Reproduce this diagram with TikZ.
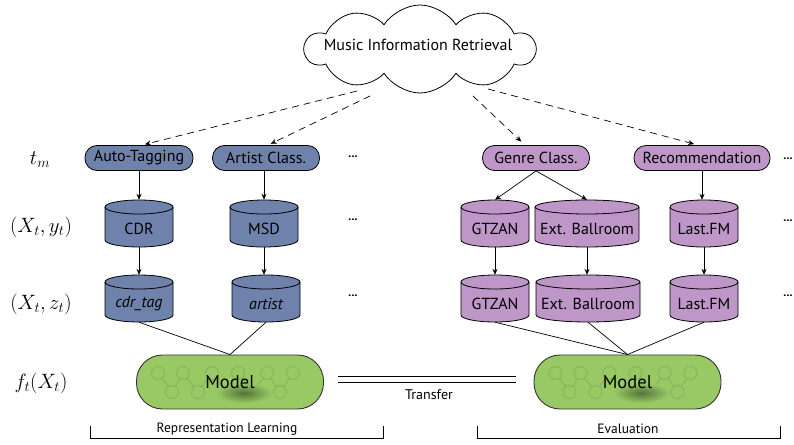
\documentclass[tikz,border=0pt]{standalone}
\usepackage{fontspec}
\setsansfont{PT Sans}
\usetikzlibrary{shapes.symbols,arrows.meta}
\definecolor{cblue}{RGB}{111,130,172}
\definecolor{cpurp}{RGB}{190,150,200}
\definecolor{cgreen}{RGB}{152,201,101}
\definecolor{cgdark}{RGB}{85,115,55}

% name, cx, cy (screen, down positive), width, colour, text
\newcommand\mycyl[6]{%
  \pgfmathsetmacro\cxl{#2-#4/2}%
  \pgfmathsetmacro\cxr{#2+#4/2}%
  \pgfmathsetmacro\ytop{-#3+23.5-7}%
  \pgfmathsetmacro\ybot{-#3-23.5+7}%
  \filldraw[fill=#5, cylline] (\cxl,\ytop) -- (\cxl,\ybot)
     arc[start angle=180,end angle=360,x radius=#4/2,y radius=7]
     -- (\cxr,\ytop)
     arc[start angle=0,end angle=180,x radius=#4/2,y radius=7] -- cycle;
  \draw[cylline] (\cxl,\ytop) arc[start angle=180,end angle=360,x radius=#4/2,y radius=7];
  \node[cylbox, minimum width=#4] (#1) at (#2,-#3) {};
  \node[boxtext] (#1t) at (#2,-#3-5) {#6};
}

% name, cx, cy (screen)
\newcommand\mymodel[3]{%
  \node[modelbox] (#1) at (#2,-#3) {};
  \begin{scope}[shift={(#2,-#3)}]
    \draw[netline] (-72,9) -- (-58,-10) -- (-47,9) -- (-32,-10) -- (-18,9) -- (-3,-10) -- (8,9) -- (23,-10) -- (37,9) -- (50,-10) -- (63,9);
    \foreach \px in {-72,-47,-18,8,37,63} {\filldraw[netline, fill=cgreen] (\px,9) circle[radius=6.5];}
    \foreach \px in {-58,-32,-3,23,50} {\filldraw[netline, fill=cgreen] (\px,-10) circle[radius=6.5];}
    \shade[inner color=cgdark, outer color=cgreen] (14,-11) ellipse[x radius=28, y radius=10];
  \end{scope}
  \node[modeltext] (#1t) at (#2,-#3) {Model};
}

\tikzset{
  cylline/.style={line width=0.8pt},
  cylbox/.style={rectangle, draw=none, minimum height=47, inner sep=0pt},
  boxtext/.style={font=\sffamily\fontsize{16}{18}\selectfont, inner sep=0pt},
  task/.style={rectangle, rounded corners=12pt, draw, line width=0.8pt, minimum height=25,
     inner sep=0pt, font=\sffamily\fontsize{16}{18}\selectfont},
  mathlab/.style={font=\fontsize{19.5}{22}\selectfont},
  dotlab/.style={font=\sffamily\bfseries\fontsize{12}{14}\selectfont},
  arr/.style={-{Stealth[length=6pt,width=5pt]}, line width=0.7pt},
  darr/.style={arr, dash pattern=on 7pt off 5pt},
  plain/.style={line width=0.7pt},
  modelbox/.style={rectangle, rounded corners=26pt, draw=black!80, fill=cgreen, line width=0.9pt,
     minimum width=187, minimum height=54},
  modeltext/.style={font=\sffamily\fontsize{18.5}{21}\selectfont},
  netline/.style={draw=black, draw opacity=0.09, line width=1.1pt},
  smalltext/.style={font=\sffamily\fontsize{14}{16}\selectfont},
}

\begin{document}
\begin{tikzpicture}[x=1pt,y=1pt]
\useasboundingbox (0,0) rectangle (794,-444);

% cloud
\node[cloud, draw, line width=0.8pt, cloud puffs=10, cloud puff arc=115, cloud ignores aspect,
      minimum width=230, minimum height=88, inner sep=0pt] (mir) at (420,-49) {};
\node[font=\sffamily\fontsize{16}{18}\selectfont] (mirt) at (418,-45) {Music Information Retrieval};

% row labels
\node[mathlab] (lt) at (40,-160) {$t_m$};
\node[mathlab] (lxy) at (41,-227) {$(X_t, y_t)$};
\node[mathlab] (lxz) at (41,-304) {$(X_t, z_t)$};
\node[mathlab] (lf) at (41,-383) {$f_t(X_t)$};

% tasks
\node[task, fill=cblue, minimum width=108] (autotag) at (139,-158) {Auto-Tagging};
\node[task, fill=cblue, minimum width=107] (artistc) at (266,-158) {Artist Class.};
\node[task, fill=cpurp, minimum width=107] (genre) at (536,-158) {Genre Class.};
\node[task, fill=cpurp, minimum width=136] (recomm) at (702,-158) {Recommendation};

% dots
\node[dotlab] (d1) at (353,-157) {...};
\node[dotlab] (d2) at (353,-220) {...};
\node[dotlab] (d3) at (353,-296) {...};
\node[dotlab] (d4) at (788,-159) {...};
\node[dotlab] (d5) at (788,-221) {...};
\node[dotlab] (d6) at (788,-296) {...};

% datasets
\mycyl{cdr}{139}{223.5}{68}{cblue}{CDR}
\mycyl{msd}{264}{223.5}{68}{cblue}{MSD}
\mycyl{gtzA}{495}{223.5}{68}{cpurp}{GTZAN}
\mycyl{ballA}{587}{223.5}{104}{cpurp}{Ext. Ballroom}
\mycyl{lastA}{704}{223.5}{68}{cpurp}{Last.FM}

\mycyl{cdrtag}{139}{298.5}{68}{cblue}{\itshape cdr\_tag}
\mycyl{artist}{266}{298.5}{68}{cblue}{\itshape artist}
\mycyl{gtzB}{495}{298.5}{68}{cpurp}{GTZAN}
\mycyl{ballB}{588}{298.5}{104}{cpurp}{Ext. Ballroom}
\mycyl{lastB}{704}{298.5}{68}{cpurp}{Last.FM}

% models
\mymodel{lmodel}{230}{382}
\mymodel{rmodel}{627.5}{382}

% dashed arrows from the cloud
\coordinate (s1) at (357,-91);
\coordinate (s2) at (370,-96);
\coordinate (s3) at (473,-96);
\coordinate (s4) at (488,-89);
\draw[darr, shorten >=3pt] (s1) -- ([xshift=3]autotag.north);
\draw[darr, shorten >=3pt] (s2) -- ([xshift=2]artistc.north);
\draw[darr, shorten >=5pt] (s3) -- ([xshift=-11]genre.north);
\draw[darr, shorten >=4pt] (s4) -- ([xshift=-4]recomm.north);

% solid arrows
\draw[arr] (autotag.south) -- (autotag.south |- cdr.north);
\draw[arr] (artistc.south -| msd.north) -- (msd.north);
\draw[arr] (genre.south) -- (gtzA.north);
\draw[arr] (genre.south) -- (ballA.north);
\draw[arr] (recomm.south) -- (recomm.south |- lastA.north);
\draw[arr] (cdr.south) -- (cdrtag.north);
\draw[arr] (msd.south) -- (msd.south |- artist.north);
\draw[arr] (gtzA.south) -- (gtzB.north);
\draw[arr] (ballA.south) -- (ballA.south |- ballB.north);
\draw[arr] (lastA.south) -- (lastB.north);

% to models
\draw[plain] (cdrtag.south) -- (lmodel.north);
\draw[plain] (artist.south) -- (lmodel.north);
\draw[plain] (gtzB.south) -- (rmodel.north);
\draw[plain] (ballB.south) -- (rmodel.north);
\draw[plain] (lastB.south) -- (rmodel.north);

% transfer (two parallel lines)
\draw[line width=0.7pt, shorten <=14pt, shorten >=18pt]
   ([yshift=5.5]lmodel.east) -- ([yshift=5.5]rmodel.west);
\draw[line width=0.7pt, shorten <=14pt, shorten >=18pt]
   ([yshift=0]lmodel.east) -- ([yshift=0]rmodel.west);
\node[smalltext] (transfer) at (429,-395) {Transfer};

% brackets
\coordinate (b1) at (90,-426);
\coordinate (b2) at (383,-426);
\coordinate (b3) at (477,-426);
\coordinate (b4) at (780,-426);
\draw[line width=0.7pt] (b1) -- ++(0,-12) -| (b2);
\draw[line width=0.7pt] (b3) -- ++(0,-12) -| (b4);
\node[font=\sffamily\fontsize{13.5}{15}\selectfont] (rl) at (227,-429) {Representation Learning};
\node[font=\sffamily\fontsize{13.5}{15}\selectfont] (ev) at (628,-429) {Evaluation};
\end{tikzpicture}
\end{document}
